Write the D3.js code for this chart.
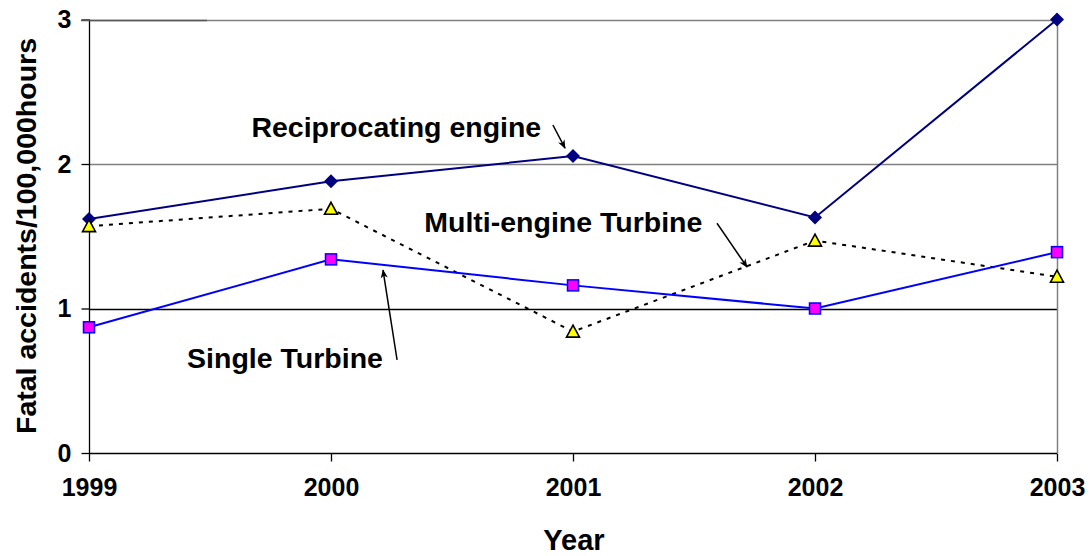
<!DOCTYPE html>
<html><head><meta charset="utf-8">
<script src="https://cdn.jsdelivr.net/npm/d3@7"></script>
<style>body{margin:0;background:#fff}svg{display:block}text{font-family:"Liberation Sans",Arial,sans-serif;font-weight:bold}</style>
</head><body>
<svg id="c" width="1091" height="556"></svg>
<script>
const years = [1999, 2000, 2001, 2002, 2003];
const yTicks = [0, 1, 2, 3];
const reciprocating = [1.62, 1.88, 2.055, 1.63, 3.0];
const multiTurbine = [1.57, 1.69, 0.84, 1.47, 1.22];
const singleTurbine = [0.87, 1.34, 1.16, 1.0, 1.39];
const annotations = [
  {text: "Reciprocating engine", x: 2000.27, y: 2.19, ax1: 2000.917, ay1: 2.27, ax2: 2000.967, ay2: 2.11},
  {text: "Multi-engine Turbine", x: 2000.96, y: 1.53, ax1: 2001.595, ay1: 1.59, ax2: 2001.719, ay2: 1.287},
  {text: "Single Turbine", x: 1999.81, y: 0.59, ax1: 2000.273, ay1: 0.644, ax2: 2000.215, ay2: 1.266}
];

const svg = d3.select("#c");
const x = d3.scaleLinear().domain([1999, 2003]).range([89, 1057]);
const y = d3.scaleLinear().domain([0, 3]).range([453, 19.5]);

const defs = svg.append("defs");
defs.append("marker").attr("id","ah").attr("viewBox","0 0 10 10").attr("refX",9).attr("refY",5)
  .attr("markerWidth",9).attr("markerHeight",9).attr("markerUnits","userSpaceOnUse").attr("orient","auto")
  .append("path").attr("d","M0,1 L10,5 L0,9 L3,5 Z").attr("fill","#000");

// gridlines
svg.append("g").selectAll("line").data(yTicks.filter(d=>d>0)).join("line")
  .attr("x1", x(1999)).attr("x2", x(2003))
  .attr("y1", d=>Math.round(y(d))+0.5).attr("y2", d=>Math.round(y(d))+0.5)
  .attr("stroke", d=> d===1 ? "#000" : "#808080").attr("stroke-width", 1.3);
// right border
svg.append("line").attr("x1", x(2003)+0.5).attr("x2", x(2003)+0.5).attr("y1", y(3)).attr("y2", y(0))
  .attr("stroke","#808080").attr("stroke-width",1.5);

// axes
const yAxis = d3.axisLeft(y).tickValues(yTicks).tickSize(8).tickPadding(10).tickFormat(d3.format("d"));
const gy = svg.append("g").attr("transform", `translate(${x(1999)+0.5},0)`).call(yAxis);
const xAxis = d3.axisBottom(x).tickValues(years).tickSize(8).tickPadding(17).tickFormat(d3.format("d"));
const gx = svg.append("g").attr("transform", `translate(0,${Math.round(y(0))+0.5})`).call(xAxis);
[gy, gx].forEach(g => {
  g.select(".domain").attr("stroke","#000").attr("stroke-width",1.3);
  g.selectAll(".tick line").attr("stroke","#000").attr("stroke-width",1.3);
  g.selectAll(".tick text").attr("fill","#000").style("font-size","25px").style("font-family","Liberation Sans, Arial, sans-serif").style("font-weight","bold");
});
gx.select(".domain").attr("d", `M${x(1999)},0H${x(2003)}`);
gy.select(".domain").attr("d", `M0,${y(3)}V${y(0)}`);
// top gridline: darker section near the axis as in the reference
svg.append("line").attr("x1", x(1999) - 8).attr("x2", 207).attr("y1", Math.round(y(3))+0.5).attr("y2", Math.round(y(3))+0.5)
  .attr("stroke","#555").attr("stroke-width",1.3);

// axis titles
svg.append("text").attr("x", 574).attr("y", 550).attr("text-anchor","middle").style("font-size","29px").text("Year");
svg.append("text").attr("transform","translate(36,236) rotate(-90)").attr("text-anchor","middle").style("font-size","28.5px").text("Fatal accidents/100,000hours");

const line = d3.line().x((d,i)=>x(years[i])).y(d=>y(d));
svg.append("path").datum(multiTurbine).attr("d", line).attr("fill","none").attr("stroke","#000").attr("stroke-width",2).attr("stroke-dasharray","4,6");
svg.append("path").datum(singleTurbine).attr("d", line).attr("fill","none").attr("stroke","#0000ff").attr("stroke-width",2);
svg.append("path").datum(reciprocating).attr("d", line).attr("fill","none").attr("stroke","#000080").attr("stroke-width",2);

// markers
svg.append("g").selectAll("path").data(reciprocating).join("path")
  .attr("transform",(d,i)=>`translate(${x(years[i])},${y(d)})`)
  .attr("d","M0,-7 L7,0 L0,7 L-7,0 Z").attr("fill","#000080");
svg.append("g").selectAll("rect").data(singleTurbine).join("rect")
  .attr("x",(d,i)=>x(years[i])-5.5).attr("y",d=>y(d)-5.5).attr("width",11).attr("height",11)
  .attr("fill","#ff00ff").attr("stroke","#0000ff").attr("stroke-width",1.5);
svg.append("g").selectAll("path").data(multiTurbine).join("path")
  .attr("transform",(d,i)=>`translate(${x(years[i])},${y(d)})`)
  .attr("d","M0,-6.5 L6.5,5.5 L-6.5,5.5 Z").attr("fill","#ffff00").attr("stroke","#000").attr("stroke-width",1.6);

// annotations
const ag = svg.append("g");
annotations.forEach(a => {
  ag.append("text").attr("x", x(a.x)).attr("y", y(a.y)).attr("text-anchor","middle").style("font-size","28.5px").text(a.text);
  ag.append("line").attr("x1", x(a.ax1)).attr("y1", y(a.ay1)).attr("x2", x(a.ax2)).attr("y2", y(a.ay2))
    .attr("stroke","#000").attr("stroke-width",1.5).attr("marker-end","url(#ah)");
});
</script>
</body></html>
